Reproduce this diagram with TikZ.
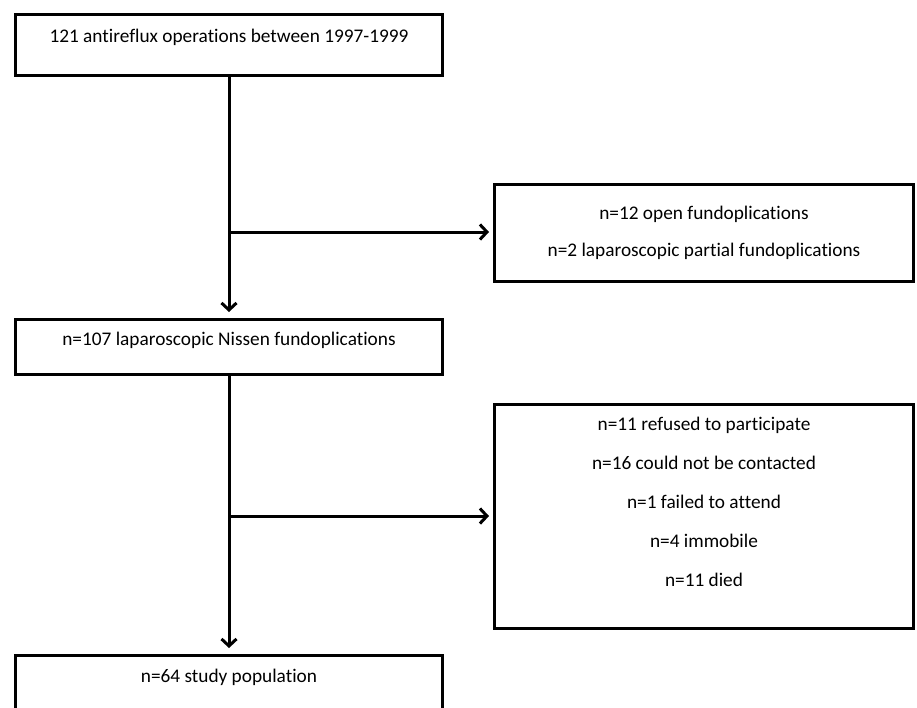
\documentclass[tikz,border=0pt]{standalone}
\usepackage{fontspec}
\setmainfont[Ligatures=CommonOff]{Carlito}
\usetikzlibrary{arrows.meta}
\begin{document}
\begin{tikzpicture}[x=1pt,y=-1pt,
  box/.style={draw=black, line width=3pt, fill=white, inner sep=0pt},
  txt/.style={anchor=base, inner sep=0pt, font=\fontsize{19.3}{23}\selectfont},
  flow/.style={line width=3pt, -{Straight Barb[length=7pt,width=15pt,line width=3pt]}}]
\clip (0,0) rectangle (917,707);
\fill[white] (0,0) rectangle (917,707);
% boxes
\node[box, minimum width=427pt, minimum height=61pt] (b1) at (229,45) {};
\node[box, minimum width=419pt, minimum height=97pt] (b2) at (704,233) {};
\node[box, minimum width=427pt, minimum height=55pt] (b3) at (229,347) {};
\node[box, minimum width=419pt, minimum height=224pt] (b4) at (704,516.5) {};
\node[box, minimum width=427pt, minimum height=89pt] (b5) at (229,700) {};
% texts
\node[txt] (t1) at (229,42) {121 antireflux operations between 1997-1999};
\node[txt] (t2a) at (704,219) {n=12 open fundoplications};
\node[txt] (t2b) at (704,256) {n=2 laparoscopic partial fundoplications};
\node[txt] (t3) at (229,345) {n=107 laparoscopic Nissen fundoplications};
\node[txt] (t4a) at (704,430) {n=11 refused to participate};
\node[txt] (t4b) at (704,469) {n=16 could not be contacted};
\node[txt] (t4c) at (704,508) {n=1 failed to attend};
\node[txt] (t4d) at (704,547) {n=4 immobile};
\node[txt] (t4e) at (704,586) {n=11 died};
\node[txt] (t5) at (229,682) {n=64 study population};
% connectors
\coordinate (j1) at (229,232);
\coordinate (j2) at (229,516);
\draw[flow, shorten >=6pt] (b1.south) -- (b3.north);
\draw[flow, shorten >=4pt] (j1) -- (b2.west |- j1);
\draw[flow, shorten >=6pt] (b3.south) -- (b5.north);
\draw[flow, shorten >=4pt] (j2) -- (b4.west |- j2);
\end{tikzpicture}
\end{document}
